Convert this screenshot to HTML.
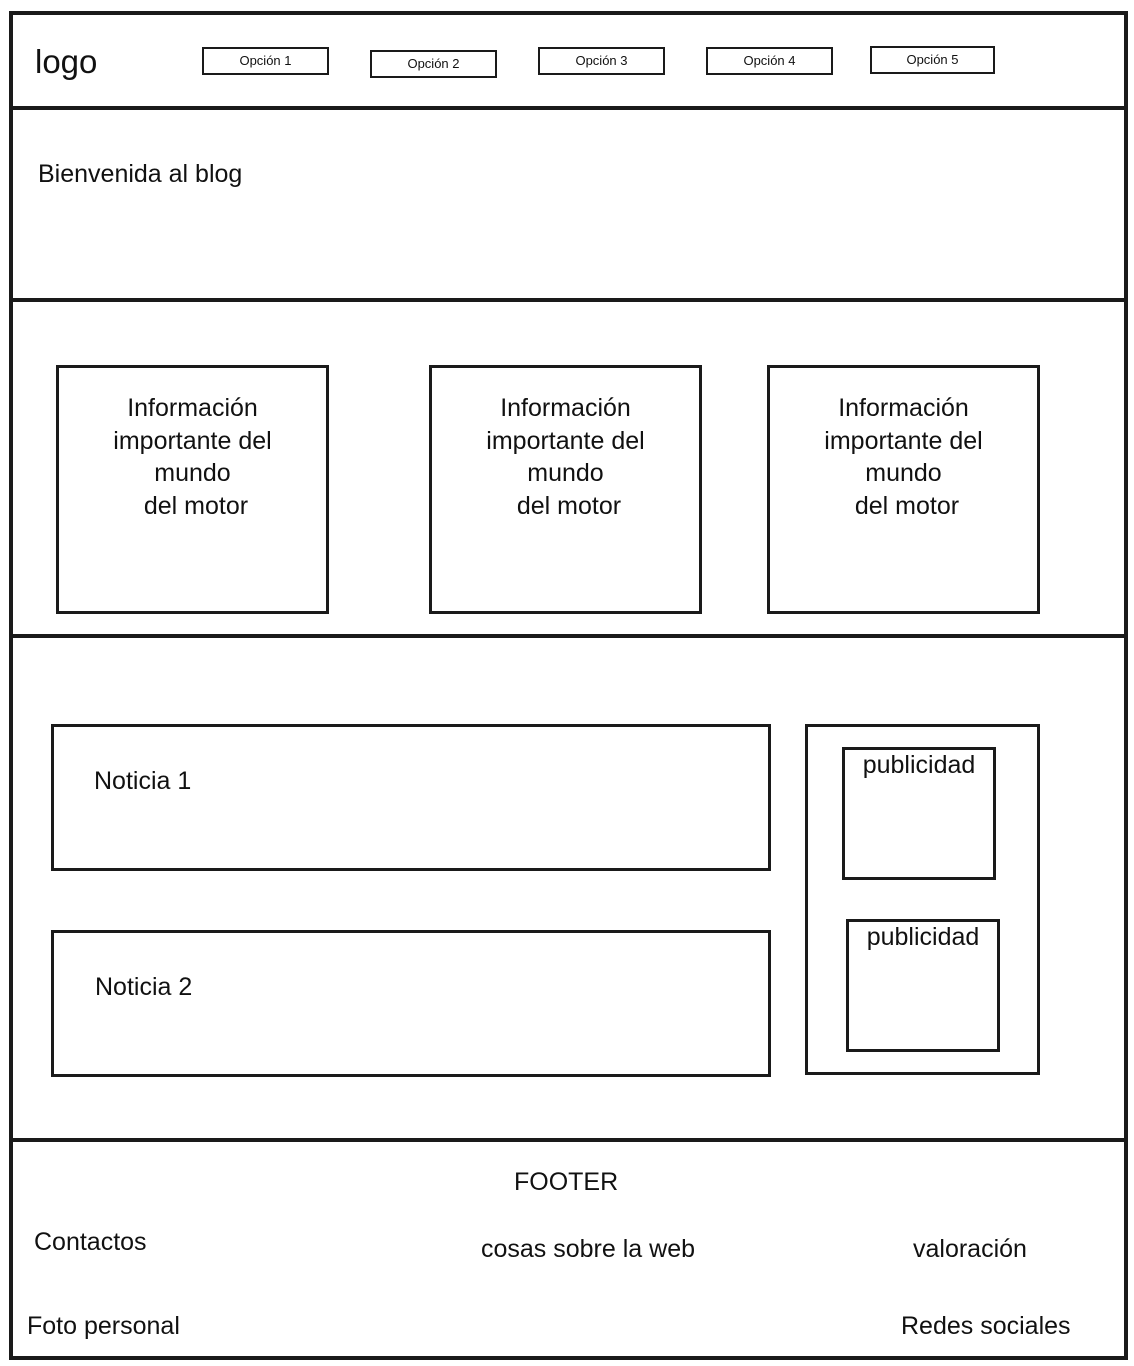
<!DOCTYPE html>
<html><head><meta charset="utf-8"><style>
body{margin:0;width:1134px;height:1366px;background:#fff;position:relative;overflow:hidden;font-family:"Liberation Sans",sans-serif;color:#111}
.b{position:absolute;border:3.5px solid #1a1a1a;box-sizing:border-box}
.h{position:absolute;left:10px;width:1116px;height:4px;background:#1a1a1a}
.t{position:absolute;font-size:25px;line-height:30px;white-space:nowrap}
.o{position:absolute;border:2px solid #1a1a1a;box-sizing:border-box;font-size:13px;text-align:center;line-height:23px}
.info{font-size:25px;line-height:32.5px;text-align:center;padding-top:24px}
.pub{text-align:center;font-size:25px;line-height:30px}
</style></head><body>
<div class="b" style="left:9px;top:11px;width:1119px;height:1349px;border-width:4px"></div>
<div class="h" style="top:106px"></div>
<div class="h" style="top:298px"></div>
<div class="h" style="top:634px"></div>
<div class="h" style="top:1138px"></div>

<div class="t" style="left:35px;top:42px;font-size:33px;line-height:40px">logo</div>
<div class="o" style="left:202px;top:47px;width:127px;height:28px">Opción 1</div>
<div class="o" style="left:370px;top:50px;width:127px;height:28px">Opción 2</div>
<div class="o" style="left:538px;top:47px;width:127px;height:28px">Opción 3</div>
<div class="o" style="left:706px;top:47px;width:127px;height:28px">Opción 4</div>
<div class="o" style="left:870px;top:46px;width:125px;height:28px">Opción 5</div>

<div class="t" style="left:38px;top:159px">Bienvenida al blog</div>

<div class="b info" style="left:56px;top:365px;width:273px;height:249px">Información<br>importante del<br>mundo<br>&nbsp;del motor</div>
<div class="b info" style="left:429px;top:365px;width:273px;height:249px">Información<br>importante del<br>mundo<br>&nbsp;del motor</div>
<div class="b info" style="left:767px;top:365px;width:273px;height:249px">Información<br>importante del<br>mundo<br>&nbsp;del motor</div>

<div class="b" style="left:51px;top:724px;width:720px;height:147px"></div>
<div class="t" style="left:94px;top:766px">Noticia 1</div>
<div class="b" style="left:51px;top:930px;width:720px;height:147px"></div>
<div class="t" style="left:95px;top:972px">Noticia 2</div>

<div class="b" style="left:805px;top:724px;width:235px;height:351px"></div>
<div class="b pub" style="left:842px;top:747px;width:154px;height:133px">publicidad</div>
<div class="b pub" style="left:846px;top:919px;width:154px;height:133px">publicidad</div>

<div class="t" style="left:514px;top:1167px">FOOTER</div>
<div class="t" style="left:34px;top:1227px">Contactos</div>
<div class="t" style="left:481px;top:1234px">cosas sobre la web</div>
<div class="t" style="left:913px;top:1234px">valoración</div>
<div class="t" style="left:27px;top:1311px">Foto personal</div>
<div class="t" style="left:901px;top:1311px">Redes sociales</div>
</body></html>
